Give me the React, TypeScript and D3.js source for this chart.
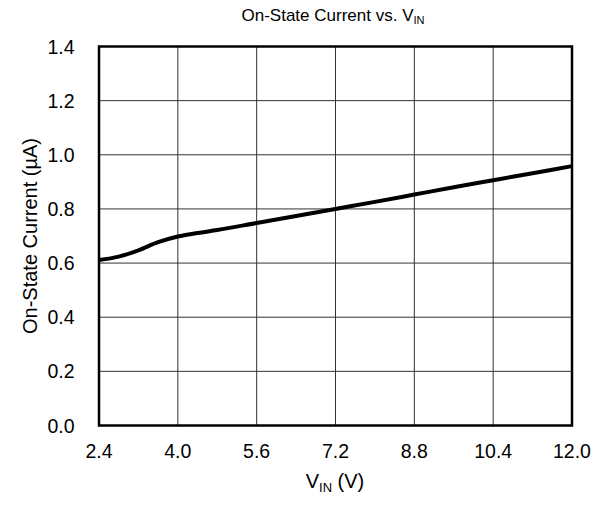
import React from 'react';
import * as d3 from 'd3';

const vIn = [2.4, 2.8, 3.2, 3.6, 4.0, 4.4, 4.8, 5.6, 6.4, 7.2, 8.0, 8.8, 9.6, 10.4, 11.2, 12.0];
const current = [0.611, 0.624, 0.647, 0.677, 0.698, 0.711, 0.722, 0.748, 0.774, 0.8, 0.826, 0.853, 0.88, 0.906, 0.932, 0.958];
const xTicks = [2.4, 4.0, 5.6, 7.2, 8.8, 10.4, 12.0];
const yTicks = [0, 0.2, 0.4, 0.6, 0.8, 1.0, 1.2, 1.4];

const App = () => {
  const width = 600, height = 506;
  const left = 99, right = 572, top = 46.5, bottom = 425.5;
  const x = d3.scaleLinear().domain([2.4, 12]).range([left, right]);
  const y = d3.scaleLinear().domain([0, 1.4]).range([bottom, top]);
  const line = d3.line<number>()
    .x((d, i) => x(vIn[i]))
    .y(d => y(d))
    .curve(d3.curveMonotoneX);
  const font = 'Liberation Sans, Arial, sans-serif';

  return (
    <svg width={width} height={height} style={{ position: 'absolute', left: 0, top: 0 }} fontFamily={font}>
      <rect width={width} height={height} fill="#fff" />
      <g stroke="#333" strokeWidth={1}>
        {xTicks.slice(1, -1).map(t => (
          <line key={'x' + t} x1={x(t)} x2={x(t)} y1={top} y2={bottom} />
        ))}
        {yTicks.slice(1, -1).map(t => (
          <line key={'y' + t} x1={left} x2={right} y1={y(t)} y2={y(t)} />
        ))}
      </g>
      <path d={line(current) || ''} fill="none" stroke="#000" strokeWidth={4} />
      <rect x={left} y={top} width={right - left} height={bottom - top} fill="none" stroke="#000" strokeWidth={2.5} />
      <g fontSize={19.5} fill="#000">
        {xTicks.map(t => (
          <text key={'xl' + t} x={x(t)} y={458} textAnchor="middle">{t.toFixed(1)}</text>
        ))}
        {yTicks.map(t => (
          <text key={'yl' + t} x={74.5} y={y(t) + 7} textAnchor="end">{t.toFixed(1)}</text>
        ))}
      </g>
      <text x={333} y={20.5} fontSize={17} textAnchor="middle">
        On-State Current vs. V<tspan fontSize={11} dy={3}>IN</tspan>
      </text>
      <text x={335} y={488} fontSize={20} textAnchor="middle">
        V<tspan fontSize={13} dy={4}>IN</tspan><tspan dy={-4}> (V)</tspan>
      </text>
      <text transform={`translate(37, ${(top + bottom) / 2}) rotate(-90)`} fontSize={20} textAnchor="middle">
        On-State Current (µA)
      </text>
    </svg>
  );
};

export default App;
